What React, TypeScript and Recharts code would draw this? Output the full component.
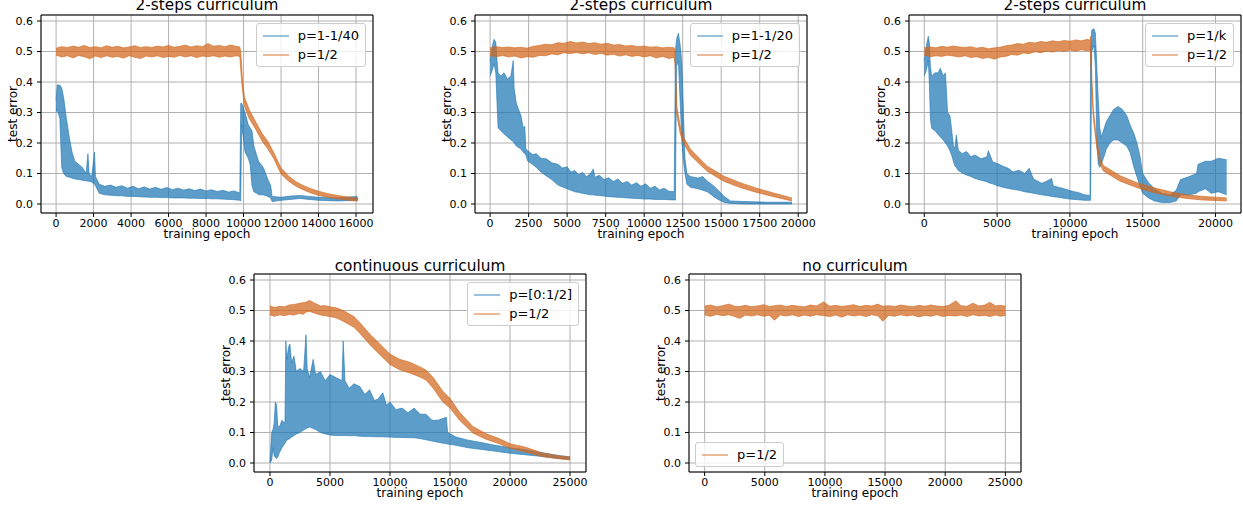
import { Area, CartesianGrid, ComposedChart, Legend, ReferenceArea, XAxis, YAxis } from 'recharts'

// each row: [epoch, lower edge of the noisy band, upper edge]
type Band = [number, number, number]

const FONT = '"DejaVu Sans", sans-serif'
const BLUE = '#1f77b4'
const ORANGE = '#d2661c'

// --- 2-steps curriculum, p=1-1/40 ---
const steps40Blue: Band[] = [
  [0, 0.3, 0.34], [60, 0.31, 0.39], [200, 0.28, 0.39], [300, 0.12, 0.38], [400, 0.1, 0.35],
  [550, 0.09, 0.28], [700, 0.088, 0.22], [850, 0.085, 0.17], [1000, 0.082, 0.14], [1200, 0.08, 0.13],
  [1400, 0.078, 0.12], [1600, 0.076, 0.1], [1700, 0.075, 0.165], [1760, 0.075, 0.1], [1900, 0.072, 0.09],
  [2050, 0.065, 0.17], [2100, 0.06, 0.09], [2300, 0.035, 0.065], [2600, 0.03, 0.058], [2900, 0.029, 0.062],
  [3200, 0.027, 0.055], [3500, 0.027, 0.06], [3800, 0.025, 0.052], [4100, 0.025, 0.058], [4400, 0.024, 0.05],
  [4700, 0.023, 0.056], [5000, 0.022, 0.049], [5300, 0.022, 0.055], [5600, 0.021, 0.048], [5900, 0.021, 0.054],
  [6200, 0.02, 0.047], [6500, 0.02, 0.052], [6800, 0.02, 0.046], [7100, 0.019, 0.05], [7400, 0.019, 0.044],
  [7700, 0.018, 0.049], [8000, 0.018, 0.043], [8300, 0.017, 0.047], [8600, 0.017, 0.041], [8900, 0.016, 0.045],
  [9200, 0.015, 0.039], [9500, 0.014, 0.043], [9800, 0.012, 0.036],
  [9850, 0.01, 0.33], [9900, 0.26, 0.33], [10080, 0.17, 0.3], [10250, 0.15, 0.26], [10350, 0.13, 0.25],
  [10450, 0.06, 0.24], [10550, 0.04, 0.19], [10700, 0.035, 0.16], [10800, 0.03, 0.14], [11050, 0.03, 0.12],
  [11300, 0.025, 0.08], [11450, 0.02, 0.06], [11520, 0.008, 0.025], [12000, 0.012, 0.022],
  [12500, 0.015, 0.026], [13000, 0.018, 0.028], [13500, 0.015, 0.025], [14000, 0.012, 0.022],
  [15000, 0.01, 0.02], [15500, 0.011, 0.022], [16000, 0.012, 0.025], [16100, 0.015, 0.022],
]
const steps40Orange: Band[] = [
  [0, 0.488, 0.511], [300, 0.482, 0.516], [600, 0.486, 0.513], [900, 0.479, 0.518], [1200, 0.487, 0.514],
  [1500, 0.483, 0.52], [1800, 0.476, 0.513], [2100, 0.485, 0.516], [2400, 0.48, 0.512], [2700, 0.486, 0.519],
  [3000, 0.481, 0.514], [3300, 0.484, 0.517], [3600, 0.478, 0.512], [3900, 0.486, 0.515], [4200, 0.481, 0.519],
  [4500, 0.477, 0.513], [4800, 0.485, 0.516], [5100, 0.482, 0.513], [5400, 0.486, 0.518], [5700, 0.48, 0.515],
  [6000, 0.484, 0.52], [6300, 0.481, 0.514], [6600, 0.487, 0.517], [6900, 0.482, 0.521], [7200, 0.486, 0.515],
  [7500, 0.48, 0.519], [7800, 0.485, 0.516], [8100, 0.483, 0.526], [8400, 0.486, 0.517], [8700, 0.481, 0.52],
  [9000, 0.485, 0.516], [9300, 0.482, 0.521], [9600, 0.486, 0.517], [9800, 0.484, 0.515],
  [9850, 0.44, 0.5], [9900, 0.4, 0.45], [9950, 0.37, 0.4], [10050, 0.32, 0.35],
  [10300, 0.28, 0.31], [10600, 0.25, 0.275], [11000, 0.205, 0.23], [11300, 0.18, 0.205], [11600, 0.15, 0.17],
  [12000, 0.098, 0.118], [12400, 0.075, 0.092], [12800, 0.058, 0.073], [13200, 0.046, 0.06],
  [13600, 0.036, 0.05], [14000, 0.028, 0.042], [14500, 0.022, 0.034], [15000, 0.017, 0.028],
  [15500, 0.013, 0.024], [16000, 0.01, 0.02], [16100, 0.01, 0.02],
]

// --- 2-steps curriculum, p=1-1/20 ---
const steps20Blue: Band[] = [
  [0, 0.42, 0.47], [150, 0.44, 0.52], [260, 0.46, 0.54], [370, 0.43, 0.53], [450, 0.33, 0.47],
  [520, 0.25, 0.43], [700, 0.24, 0.42], [900, 0.23, 0.43], [1130, 0.22, 0.41], [1350, 0.21, 0.42],
  [1500, 0.205, 0.47], [1560, 0.2, 0.38], [1700, 0.19, 0.33], [1850, 0.185, 0.31], [2000, 0.18, 0.29],
  [2150, 0.17, 0.25], [2250, 0.165, 0.255], [2320, 0.16, 0.18], [2450, 0.14, 0.175], [2750, 0.13, 0.162],
  [3000, 0.12, 0.165], [3300, 0.105, 0.15], [3650, 0.092, 0.148], [4000, 0.08, 0.135], [4400, 0.062, 0.13],
  [4700, 0.056, 0.118], [5000, 0.05, 0.122], [5250, 0.045, 0.105], [5500, 0.04, 0.11], [5750, 0.038, 0.096],
  [6000, 0.035, 0.104], [6250, 0.033, 0.09], [6500, 0.03, 0.098], [6700, 0.03, 0.115], [6800, 0.029, 0.088],
  [7100, 0.028, 0.094], [7400, 0.026, 0.08], [7700, 0.024, 0.086], [8000, 0.023, 0.074], [8300, 0.022, 0.082],
  [8600, 0.021, 0.068], [8900, 0.02, 0.074], [9200, 0.019, 0.062], [9500, 0.018, 0.07], [9800, 0.017, 0.058],
  [10100, 0.016, 0.066], [10400, 0.016, 0.052], [10700, 0.015, 0.058], [11000, 0.015, 0.046],
  [11300, 0.015, 0.052], [11600, 0.014, 0.042], [11950, 0.013, 0.04], [12030, 0.013, 0.5],
  [12100, 0.45, 0.54], [12220, 0.47, 0.56], [12340, 0.33, 0.52], [12450, 0.2, 0.46], [12550, 0.14, 0.3],
  [12650, 0.1, 0.15], [12770, 0.065, 0.1], [13000, 0.055, 0.09], [13500, 0.05, 0.085], [13800, 0.045, 0.09],
  [14100, 0.04, 0.075], [14500, 0.025, 0.06], [14800, 0.015, 0.045], [15200, 0.005, 0.025],
  [15600, 0.002, 0.01], [16500, 0.0, 0.008], [18000, 0.0, 0.006], [19600, 0.0, 0.006],
]
const steps20Orange: Band[] = [
  [0, 0.486, 0.512], [400, 0.483, 0.516], [800, 0.487, 0.513], [1200, 0.482, 0.515], [1600, 0.485, 0.512],
  [2000, 0.479, 0.514], [2400, 0.483, 0.511], [2800, 0.481, 0.517], [3200, 0.487, 0.52], [3600, 0.486, 0.524],
  [4000, 0.492, 0.522], [4400, 0.489, 0.529], [4800, 0.496, 0.527], [5200, 0.493, 0.533], [5600, 0.497, 0.528],
  [6000, 0.492, 0.531], [6400, 0.496, 0.526], [6800, 0.49, 0.529], [7200, 0.494, 0.524], [7600, 0.488, 0.527],
  [8000, 0.491, 0.521], [8400, 0.485, 0.523], [8800, 0.489, 0.518], [9200, 0.484, 0.52], [9600, 0.487, 0.516],
  [10000, 0.482, 0.518], [10400, 0.486, 0.514], [10800, 0.479, 0.516], [11200, 0.484, 0.512],
  [11600, 0.477, 0.514], [11950, 0.481, 0.512], [12000, 0.46, 0.5], [12050, 0.38, 0.42], [12120, 0.29, 0.32],
  [12340, 0.23, 0.255], [12550, 0.2, 0.22], [13000, 0.16, 0.18], [14070, 0.108, 0.125], [15150, 0.075, 0.092],
  [16230, 0.054, 0.07], [17300, 0.038, 0.052], [18400, 0.024, 0.036], [19590, 0.01, 0.02],
]

// --- 2-steps curriculum, p=1/k ---
const stepsKBlue: Band[] = [
  [0, 0.42, 0.47], [150, 0.44, 0.52], [275, 0.47, 0.55], [345, 0.4, 0.53], [420, 0.28, 0.45],
  [504, 0.248, 0.42], [733, 0.24, 0.43], [950, 0.228, 0.43], [1100, 0.22, 0.445], [1300, 0.21, 0.42],
  [1450, 0.2, 0.43], [1600, 0.19, 0.3], [1760, 0.175, 0.29], [1880, 0.16, 0.243], [2000, 0.14, 0.19],
  [2100, 0.125, 0.183], [2200, 0.12, 0.226], [2335, 0.11, 0.177], [2600, 0.102, 0.165], [2900, 0.095, 0.172],
  [3200, 0.09, 0.155], [3480, 0.084, 0.161], [3900, 0.078, 0.148], [4300, 0.073, 0.155], [4400, 0.07, 0.175],
  [4700, 0.066, 0.138], [5014, 0.06, 0.133], [5400, 0.055, 0.124], [5770, 0.051, 0.117], [6100, 0.048, 0.105],
  [6500, 0.045, 0.111], [6900, 0.04, 0.1], [7200, 0.038, 0.117], [7500, 0.035, 0.082], [8058, 0.03, 0.068],
  [8400, 0.028, 0.075], [8745, 0.025, 0.084], [8850, 0.024, 0.06], [9200, 0.022, 0.055], [9600, 0.019, 0.05],
  [10005, 0.016, 0.044], [10300, 0.015, 0.04], [10577, 0.014, 0.038], [11000, 0.012, 0.03],
  [11380, 0.012, 0.028], [11420, 0.012, 0.5], [11500, 0.5, 0.57], [11650, 0.52, 0.575], [11750, 0.45, 0.56],
  [11850, 0.2, 0.45], [11950, 0.13, 0.34], [12050, 0.12, 0.25], [12150, 0.13, 0.22], [12300, 0.15, 0.24],
  [12500, 0.18, 0.27], [12750, 0.2, 0.29], [13000, 0.21, 0.31], [13300, 0.21, 0.32], [13600, 0.2, 0.31],
  [13900, 0.19, 0.29], [14128, 0.17, 0.26], [14400, 0.12, 0.23], [14600, 0.09, 0.2], [14800, 0.06, 0.16],
  [15000, 0.035, 0.1], [15400, 0.02, 0.07], [15800, 0.01, 0.05], [16300, 0.005, 0.035], [16900, 0.005, 0.03],
  [17300, 0.01, 0.045], [17600, 0.03, 0.08], [18200, 0.03, 0.09], [18700, 0.035, 0.1], [18800, 0.04, 0.13],
  [19300, 0.05, 0.14], [19700, 0.035, 0.14], [20200, 0.04, 0.15], [20767, 0.03, 0.145],
]
const stepsKOrange: Band[] = [
  [0, 0.488, 0.512], [400, 0.483, 0.515], [800, 0.486, 0.512], [1200, 0.484, 0.517], [1600, 0.488, 0.514],
  [2000, 0.485, 0.518], [2400, 0.482, 0.515], [2800, 0.486, 0.513], [3200, 0.48, 0.516], [3600, 0.483, 0.511],
  [4000, 0.477, 0.514], [4400, 0.481, 0.509], [4800, 0.475, 0.512], [5200, 0.482, 0.514], [5600, 0.484, 0.519],
  [6000, 0.49, 0.521], [6400, 0.488, 0.526], [6800, 0.495, 0.524], [7200, 0.493, 0.53], [7600, 0.499, 0.528],
  [8000, 0.496, 0.533], [8400, 0.501, 0.53], [8800, 0.498, 0.535], [9200, 0.503, 0.532], [9600, 0.5, 0.536],
  [10000, 0.505, 0.534], [10400, 0.501, 0.538], [10800, 0.506, 0.535], [11200, 0.502, 0.54], [11400, 0.505, 0.537],
  [11430, 0.46, 0.55], [11500, 0.38, 0.42], [11610, 0.28, 0.31], [11840, 0.185, 0.21], [12070, 0.13, 0.15],
  [12300, 0.108, 0.126], [13440, 0.075, 0.093], [14590, 0.054, 0.07], [15730, 0.038, 0.054],
  [16880, 0.026, 0.04], [18020, 0.018, 0.03], [19160, 0.013, 0.025], [20770, 0.01, 0.02],
]

// --- continuous curriculum ---
const contBlue: Band[] = [
  [0, 0.0, 0.003], [150, 0.01, 0.1], [250, 0.05, 0.11], [350, 0.025, 0.13], [450, 0.018, 0.2],
  [550, 0.015, 0.19], [650, 0.02, 0.12], [800, 0.035, 0.12], [1000, 0.05, 0.14], [1250, 0.065, 0.13],
  [1320, 0.07, 0.4], [1400, 0.075, 0.34], [1550, 0.078, 0.38], [1660, 0.08, 0.39], [1800, 0.085, 0.33],
  [2000, 0.09, 0.35], [2200, 0.095, 0.3], [2500, 0.1, 0.31], [2800, 0.108, 0.3], [3000, 0.112, 0.42],
  [3100, 0.115, 0.31], [3300, 0.118, 0.28], [3600, 0.113, 0.34], [3800, 0.11, 0.29], [4200, 0.1, 0.3],
  [4600, 0.095, 0.27], [5000, 0.092, 0.29], [5500, 0.09, 0.28], [6000, 0.09, 0.27], [6100, 0.09, 0.4],
  [6250, 0.09, 0.27], [6600, 0.089, 0.245], [7000, 0.09, 0.26], [7500, 0.088, 0.25], [7900, 0.087, 0.225],
  [8300, 0.087, 0.24], [8700, 0.086, 0.205], [9000, 0.086, 0.21], [9400, 0.086, 0.23], [9700, 0.085, 0.19],
  [10000, 0.085, 0.2], [10500, 0.084, 0.175], [11000, 0.084, 0.18], [11500, 0.083, 0.165], [12000, 0.083, 0.18],
  [12500, 0.08, 0.16], [13000, 0.076, 0.16], [13500, 0.072, 0.14], [14000, 0.068, 0.14], [14700, 0.063, 0.15],
  [14800, 0.062, 0.1], [15500, 0.058, 0.085], [16500, 0.05, 0.075], [17500, 0.045, 0.068], [18500, 0.04, 0.06],
  [20000, 0.032, 0.05], [21000, 0.028, 0.045], [22500, 0.022, 0.035], [24000, 0.015, 0.025], [25000, 0.012, 0.02],
]
const contOrange: Band[] = [
  [0, 0.485, 0.515], [400, 0.481, 0.51], [800, 0.486, 0.514], [1200, 0.483, 0.512], [1600, 0.487, 0.518],
  [2000, 0.485, 0.52], [2400, 0.49, 0.523], [2800, 0.488, 0.526], [3000, 0.495, 0.527], [3300, 0.497, 0.533],
  [3700, 0.492, 0.525], [4200, 0.485, 0.515], [4600, 0.483, 0.516], [5000, 0.48, 0.512], [5500, 0.476, 0.509],
  [6100, 0.465, 0.5], [7000, 0.445, 0.48], [7500, 0.425, 0.46], [8330, 0.388, 0.422],
  [9160, 0.355, 0.39], [10000, 0.323, 0.357], [10800, 0.306, 0.34], [11650, 0.295, 0.33], [12500, 0.282, 0.315],
  [13000, 0.272, 0.305], [13600, 0.245, 0.28], [14400, 0.2, 0.235], [15000, 0.18, 0.212], [15800, 0.14, 0.166],
  [16900, 0.098, 0.12], [18000, 0.078, 0.096], [19100, 0.063, 0.08], [20000, 0.048, 0.063],
  [21300, 0.036, 0.052], [22700, 0.021, 0.033], [24000, 0.014, 0.024], [25000, 0.01, 0.02],
]

// --- no curriculum ---
const noCurOrange: Band[] = [
  [0, 0.485, 0.515], [500, 0.481, 0.518], [1000, 0.487, 0.512], [1500, 0.483, 0.516], [2000, 0.486, 0.521],
  [2500, 0.48, 0.514], [2900, 0.474, 0.513], [3400, 0.485, 0.517], [3900, 0.482, 0.512], [4400, 0.486, 0.515],
  [4900, 0.481, 0.519], [5400, 0.484, 0.513], [5800, 0.468, 0.516], [6300, 0.485, 0.518], [6800, 0.482, 0.513],
  [7300, 0.486, 0.517], [7800, 0.48, 0.514], [8300, 0.485, 0.512], [8800, 0.481, 0.518], [9300, 0.486, 0.515],
  [9900, 0.483, 0.528], [10400, 0.48, 0.514], [10900, 0.485, 0.517], [11400, 0.478, 0.513], [11900, 0.486, 0.516],
  [12400, 0.482, 0.519], [12900, 0.485, 0.513], [13400, 0.48, 0.517], [13900, 0.486, 0.515], [14400, 0.483, 0.521],
  [14800, 0.465, 0.514], [15300, 0.484, 0.516], [15800, 0.481, 0.513], [16300, 0.486, 0.518], [16800, 0.482, 0.515],
  [17300, 0.485, 0.512], [17800, 0.479, 0.517], [18300, 0.484, 0.514], [18800, 0.481, 0.518], [19300, 0.486, 0.515],
  [19800, 0.48, 0.513], [20300, 0.484, 0.517], [20900, 0.482, 0.532], [21300, 0.485, 0.516], [21800, 0.48, 0.514],
  [22300, 0.486, 0.524], [22800, 0.482, 0.515], [23300, 0.484, 0.518], [23700, 0.48, 0.527], [24200, 0.485, 0.515],
  [24600, 0.481, 0.517], [25000, 0.484, 0.514],
]

const Y_TICKS = [0, 0.1, 0.2, 0.3, 0.4, 0.5, 0.6]
const Y_DOMAIN: [number, number] = [-0.0295, 0.6197]
const TICKS_16K = [0, 2000, 4000, 6000, 8000, 10000, 12000, 14000, 16000]
const TICKS_20K = [0, 2500, 5000, 7500, 10000, 12500, 15000, 17500, 20000]
const TICKS_5K = [0, 5000, 10000, 15000, 20000]
const TICKS_25K = [0, 5000, 10000, 15000, 20000, 25000]

type Series = { label: string; color: string; rows: Band[] }
type Panel = {
  title: string
  titleBaseline: number
  left: number
  top: number
  xDomain: [number, number]
  xTicks: number[]
  series: Series[]
  legend: 'upper right' | 'lower left'
}

const panels: Panel[] = [
  {
    title: '2-steps curriculum', titleBaseline: -4, left: 41, top: 15, xDomain: [-805, 16905], xTicks: TICKS_16K,
    legend: 'upper right',
    series: [
      { label: 'p=1-1/40', color: BLUE, rows: steps40Blue },
      { label: 'p=1/2', color: ORANGE, rows: steps40Orange },
    ],
  },
  {
    title: '2-steps curriculum', titleBaseline: -4, left: 475, top: 15, xDomain: [-980, 20570], xTicks: TICKS_20K,
    legend: 'upper right',
    series: [
      { label: 'p=1-1/20', color: BLUE, rows: steps20Blue },
      { label: 'p=1/2', color: ORANGE, rows: steps20Orange },
    ],
  },
  {
    title: '2-steps curriculum', titleBaseline: -4, left: 909, top: 15, xDomain: [-1050, 21750], xTicks: TICKS_5K,
    legend: 'upper right',
    series: [
      { label: 'p=1/k', color: BLUE, rows: stepsKBlue },
      { label: 'p=1/2', color: ORANGE, rows: stepsKOrange },
    ],
  },
  {
    title: 'continuous curriculum', titleBaseline: -2.3, left: 254, top: 274, xDomain: [-1330, 26330],
    xTicks: TICKS_25K, legend: 'upper right',
    series: [
      { label: 'p=[0:1/2]', color: BLUE, rows: contBlue },
      { label: 'p=1/2', color: ORANGE, rows: contOrange },
    ],
  },
  {
    title: 'no curriculum', titleBaseline: -2.3, left: 689, top: 274, xDomain: [-1300, 26300], xTicks: TICKS_25K,
    legend: 'lower left',
    series: [{ label: 'p=1/2', color: ORANGE, rows: noCurOrange }],
  },
]

const FRAME_W = 332
const FRAME_H = 198
const AXIS_W = 41
const TOP_PAD = 15
const RIGHT_PAD = 22
const X_AXIS_H = 30
const CHART_W = AXIS_W + FRAME_W + RIGHT_PAD
const CHART_H = TOP_PAD + FRAME_H + X_AXIS_H
const TITLE_SIZE = 15.3

const toRows = (rows: Band[]) => rows.map(([x, lo, hi]) => ({ x, band: [lo, hi] }))

function LegendBox({ series }: { series: Series[] }) {
  return (
    <div
      style={{
        background: 'rgba(255,255,255,0.8)',
        border: '1px solid #cccccc',
        borderRadius: 3,
        padding: '2px 6px',
        fontFamily: FONT,
        fontSize: 13,
        color: '#000',
      }}
    >
      {series.map((s) => (
        <div key={s.label} style={{ display: 'flex', alignItems: 'center', height: 19 }}>
          <svg width={26} height={4} style={{ marginRight: 9 }}>
            <line x1={0} y1={2} x2={26} y2={2} stroke={s.color} strokeOpacity={0.6} strokeWidth={1.5} />
          </svg>
          <span style={{ whiteSpace: 'nowrap', lineHeight: '19px' }}>{s.label}</span>
        </div>
      ))}
    </div>
  )
}

function CurvePanel({ panel }: { panel: Panel }) {
  const legendPos =
    panel.legend === 'upper right'
      ? { top: TOP_PAD + 8, right: RIGHT_PAD + 7 }
      : { top: TOP_PAD + FRAME_H - 6 - 24, left: AXIS_W + 6 }
  const tickStyle = { fill: '#000', fontSize: 11, fontFamily: FONT }
  return (
    <div
      style={{ position: 'absolute', left: panel.left - AXIS_W, top: panel.top - TOP_PAD, width: CHART_W, height: CHART_H }}
    >
      <ComposedChart width={CHART_W} height={CHART_H} margin={{ top: TOP_PAD, right: RIGHT_PAD, bottom: 0, left: 0 }}>
        <CartesianGrid stroke="#b0b0b0" strokeWidth={1} />
        <XAxis
          type="number"
          dataKey="x"
          domain={panel.xDomain}
          ticks={panel.xTicks}
          interval={0}
          allowDataOverflow
          height={X_AXIS_H}
          axisLine={false}
          tickLine={{ stroke: '#000' }}
          tickSize={4}
          tickMargin={2}
          tick={tickStyle}
          label={{ value: 'training epoch', position: 'insideBottom', offset: 5, fill: '#000', fontSize: 12, fontFamily: FONT }}
        />
        <YAxis
          type="number"
          domain={Y_DOMAIN}
          ticks={Y_TICKS}
          interval={0}
          allowDataOverflow
          width={AXIS_W}
          axisLine={false}
          tickLine={{ stroke: '#000' }}
          tickSize={4}
          tickMargin={4}
          tick={tickStyle}
          tickFormatter={(v: number) => v.toFixed(1)}
          label={{
            value: 'test error',
            angle: -90,
            position: 'insideLeft',
            offset: 13,
            fill: '#000',
            fontSize: 12,
            fontFamily: FONT,
            style: { textAnchor: 'middle' },
          }}
        />
        {panel.series.map((s) => (
          <Area
            key={s.label}
            data={toRows(s.rows)}
            dataKey="band"
            type="linear"
            stroke={s.color}
            strokeOpacity={0.6}
            strokeWidth={1}
            fill={s.color}
            fillOpacity={0.72}
            dot={false}
            activeDot={false}
            isAnimationActive={false}
          />
        ))}
        <ReferenceArea
          x1={panel.xDomain[0]}
          x2={panel.xDomain[1]}
          y1={Y_DOMAIN[0]}
          y2={Y_DOMAIN[1]}
          fill="none"
          stroke="#000"
          strokeWidth={1}
        />
        <Legend
          layout="vertical"
          align="center"
          verticalAlign="middle"
          wrapperStyle={{ ...legendPos, width: 'auto', height: 'auto' }}
          content={() => <LegendBox series={panel.series} />}
        />
      </ComposedChart>
      <div
        style={{
          position: 'absolute',
          left: AXIS_W,
          top: TOP_PAD + panel.titleBaseline - 12.8,
          width: FRAME_W,
          textAlign: 'center',
          fontFamily: FONT,
          fontSize: TITLE_SIZE,
          lineHeight: '15px',
          color: '#000',
          whiteSpace: 'nowrap',
          pointerEvents: 'none',
        }}
      >
        {panel.title}
      </div>
    </div>
  )
}

export default function App() {
  return (
    <div
      style={{ position: 'absolute', left: 0, top: 0, width: 1243, height: 505, overflow: 'hidden', background: '#fff' }}
    >
      {panels.map((p) => (
        <CurvePanel key={p.title + p.left} panel={p} />
      ))}
    </div>
  )
}
